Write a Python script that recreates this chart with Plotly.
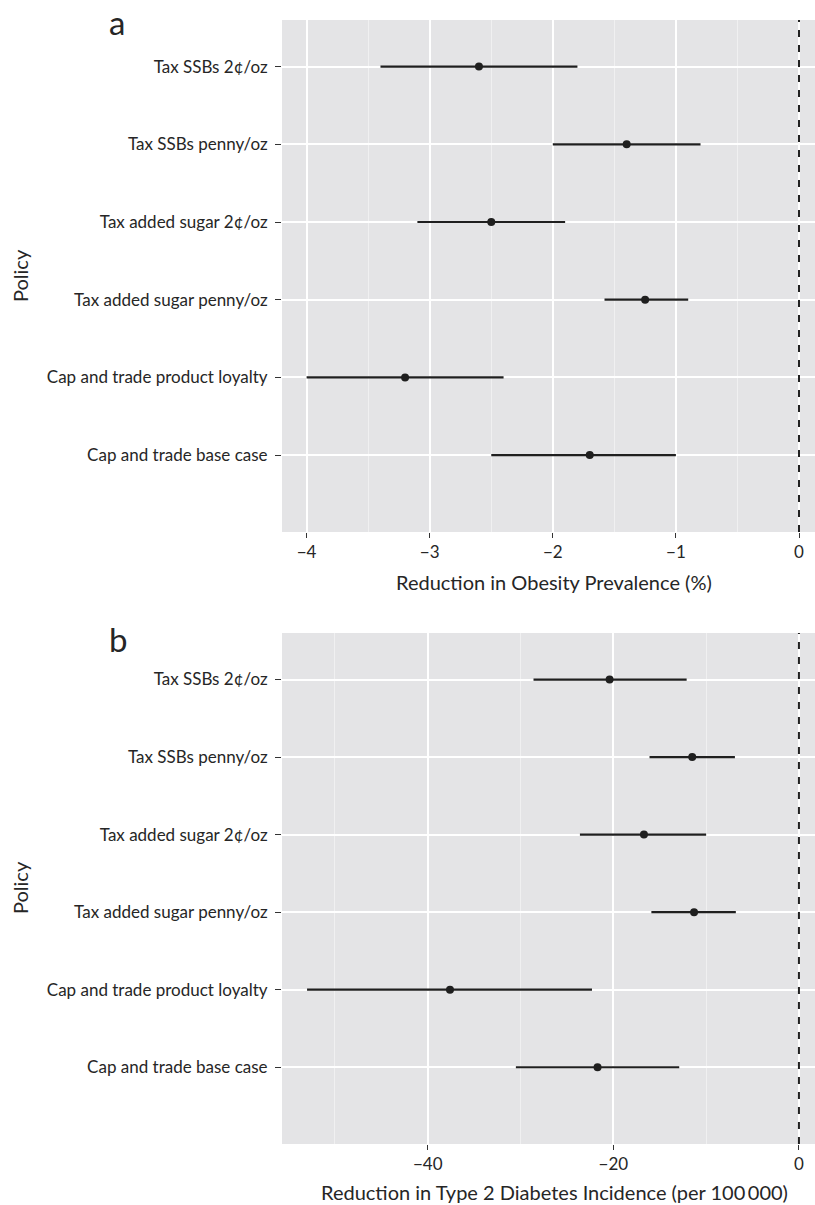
import plotly.graph_objects as go

policies = [
    "Tax SSBs 2¢/oz",
    "Tax SSBs penny/oz",
    "Tax added sugar 2¢/oz",
    "Tax added sugar penny/oz",
    "Cap and trade product loyalty",
    "Cap and trade base case",
]

obesity_est = [-2.6, -1.4, -2.5, -1.25, -3.2, -1.7]
obesity_low = [-3.4, -2.0, -3.1, -1.58, -4.0, -2.5]
obesity_high = [-1.8, -0.8, -1.9, -0.9, -2.4, -1.0]

diabetes_est = [-20.4, -11.5, -16.7, -11.3, -37.6, -21.7]
diabetes_low = [-28.6, -16.1, -23.6, -15.9, -53.0, -30.5]
diabetes_high = [-12.1, -6.9, -10.0, -6.8, -22.3, -12.9]

obesity_ticks = [-4, -3, -2, -1, 0]
diabetes_ticks = [-40, -20, 0]

W, H = 815, 1205
FONT = "Lato"
TXT = "#262626"
INK = "#1f1f1f"
BG = "#E4E4E6"


def fx(px):
    return px / W


def fy(py):
    return 1 - py / H


fig = go.Figure()


def add_panel(est, low, high, xa, ya):
    fig.add_trace(go.Scatter(
        x=est, y=policies, mode="markers",
        marker=dict(color=INK, size=8),
        error_x=dict(
            type="data", symmetric=False,
            array=[h - e for h, e in zip(high, est)],
            arrayminus=[e - l for e, l in zip(est, low)],
            color=INK, thickness=2.2, width=0,
        ),
        xaxis=xa, yaxis=ya, showlegend=False, hoverinfo="skip",
    ))


add_panel(obesity_est, obesity_low, obesity_high, "x", "y")
add_panel(diabetes_est, diabetes_low, diabetes_high, "x2", "y2")

xdom = [fx(282), 1.0]
top_a, bot_a = 20, 532
top_b, bot_b = 633, 1144

common_x = dict(
    showgrid=True, gridcolor="white", gridwidth=1.8,
    zeroline=False, showline=False,
    ticks="outside", ticklen=5, tickwidth=1.4, tickcolor="#333333",
    tickfont=dict(family=FONT, size=17, color=TXT),
    automargin=False,
)
common_y = dict(
    type="category", categoryorder="array", categoryarray=policies,
    showgrid=True, gridcolor="white", gridwidth=1.8,
    zeroline=False, showline=False,
    ticks="outside", ticklen=6, tickwidth=1.4, tickcolor="#333333",
    tickfont=dict(family=FONT, size=17, color=TXT),
    ticklabelstandoff=4,
    range=[5.99, -0.6],
    automargin=False,
)

fig.update_layout(
    width=W, height=H,
    margin=dict(l=0, r=0, t=0, b=0),
    paper_bgcolor="white", plot_bgcolor=BG,
    font=dict(family=FONT, color=TXT),
    xaxis=dict(domain=xdom, anchor="y", range=[-4.2, 0.13],
               tickvals=obesity_ticks,
               minor=dict(dtick=0.5, tick0=0, showgrid=True,
                          gridcolor="#F0F0F1", gridwidth=1, ticks=""),
               **common_x),
    yaxis=dict(domain=[fy(bot_a), fy(top_a)], anchor="x", **common_y),
    xaxis2=dict(domain=xdom, anchor="y2", range=[-55.7, 1.73],
                tickvals=diabetes_ticks,
                minor=dict(dtick=10, tick0=0, showgrid=True,
                           gridcolor="#F0F0F1", gridwidth=1, ticks=""),
                **common_x),
    yaxis2=dict(domain=[fy(bot_b), fy(top_b)], anchor="x2", **common_y),
)

# reference line at zero
for xr, yr in (("x", "y domain"), ("x2", "y2 domain")):
    fig.add_shape(type="line", x0=0, x1=0, y0=0, y1=1, xref=xr, yref=yr,
                  line=dict(color="#222222", width=2, dash="7px,8px"),
                  layer="above")

ann = []
ann.append(dict(text="a", x=fx(117), y=fy(22), font=dict(size=33)))
ann.append(dict(text="b", x=fx(118), y=fy(639), font=dict(size=33)))
ann.append(dict(text="Policy", x=fx(20), y=fy(276), textangle=-90, font=dict(size=20)))
ann.append(dict(text="Policy", x=fx(20), y=fy(888), textangle=-90, font=dict(size=20)))
ann.append(dict(text="Reduction in Obesity Prevalence (%)", x=fx(554), y=fy(582), font=dict(size=20)))
ann.append(dict(text="Reduction in Type 2 Diabetes Incidence (per 100\u2009000)",
                x=fx(554), y=fy(1192), font=dict(size=20)))
for a in ann:
    a.update(xref="paper", yref="paper", showarrow=False,
             xanchor="center", yanchor="middle")
    a["font"].update(family=FONT, color=TXT)
    fig.add_annotation(**a)

fig.write_html("out.html", config={"displayModeBar": False},
               post_script="document.body.style.margin='0px';")
